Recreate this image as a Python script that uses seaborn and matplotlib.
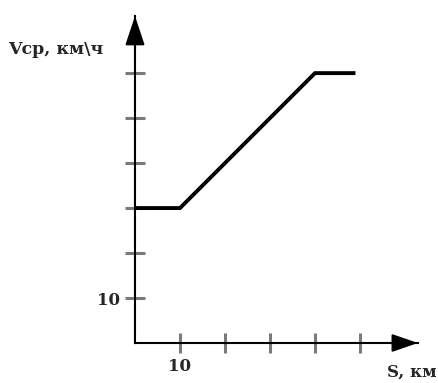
import matplotlib
matplotlib.use('Agg')
import matplotlib.pyplot as plt
import seaborn as sns

# distance S (km) and average speed V (km/h)
s_km = [0, 10, 40, 49]
v_kmh = [30, 30, 60, 60]
x_ticks = [10, 20, 30, 40, 50]
y_ticks = [10, 20, 30, 40, 50, 60]
x_labels = ['10', '', '', '', '']
y_labels = ['10', '', '', '', '', '']

sns.set_style('white')
plt.rcParams['font.family'] = ['DejaVu Serif']

W, H = 438, 383
fig = plt.figure(figsize=(W / 100, H / 100), dpi=100)
ax = fig.add_axes([135 / W, (H - 343) / H, (418 - 135) / W, (343 - 16) / H])

sns.lineplot(x=s_km, y=v_kmh, ax=ax, color='black', linewidth=2.8,
             solid_capstyle='butt', solid_joinstyle='miter')

ax.set_xlim(0, 62.9)
ax.set_ylim(0, 72.7)
ax.set_xticks(x_ticks)
ax.set_xticklabels(x_labels, fontweight='semibold')
ax.set_yticks(y_ticks)
ax.set_yticklabels(y_labels, fontweight='semibold')
ax.tick_params(bottom=True, left=True, direction='inout', length=14,
               width=2.2, color='#7a7a7a', labelsize=12, pad=4)
ax.yaxis.get_major_ticks()[-1].tick1line.set_color('black')

for side in ['top', 'right']:
    ax.spines[side].set_visible(False)
for side in ['left', 'bottom']:
    ax.spines[side].set_color('black')
    ax.spines[side].set_linewidth(1.5)

# axis arrows
ax.annotate('', xy=(1.0, 0), xytext=(0.9, 0), xycoords='axes fraction',
            arrowprops=dict(arrowstyle='-|>,head_length=1.6,head_width=0.55',
                            color='black', lw=1.5, shrinkA=0, shrinkB=0))
ax.annotate('', xy=(0, 1.0), xytext=(0, 0.9), xycoords='axes fraction',
            arrowprops=dict(arrowstyle='-|>,head_length=1.8,head_width=0.6',
                            color='black', lw=1.5, shrinkA=0, shrinkB=0))

fig.text(8 / W, 1 - 50 / H, 'Vср, км\\ч', fontsize=12.5, fontweight='bold',
         ha='left', va='center')
fig.text(437 / W, 1 - 372 / H, 'S, км', fontsize=12, fontweight='bold',
         ha='right', va='center')

fig.savefig('out.png', dpi=100)
